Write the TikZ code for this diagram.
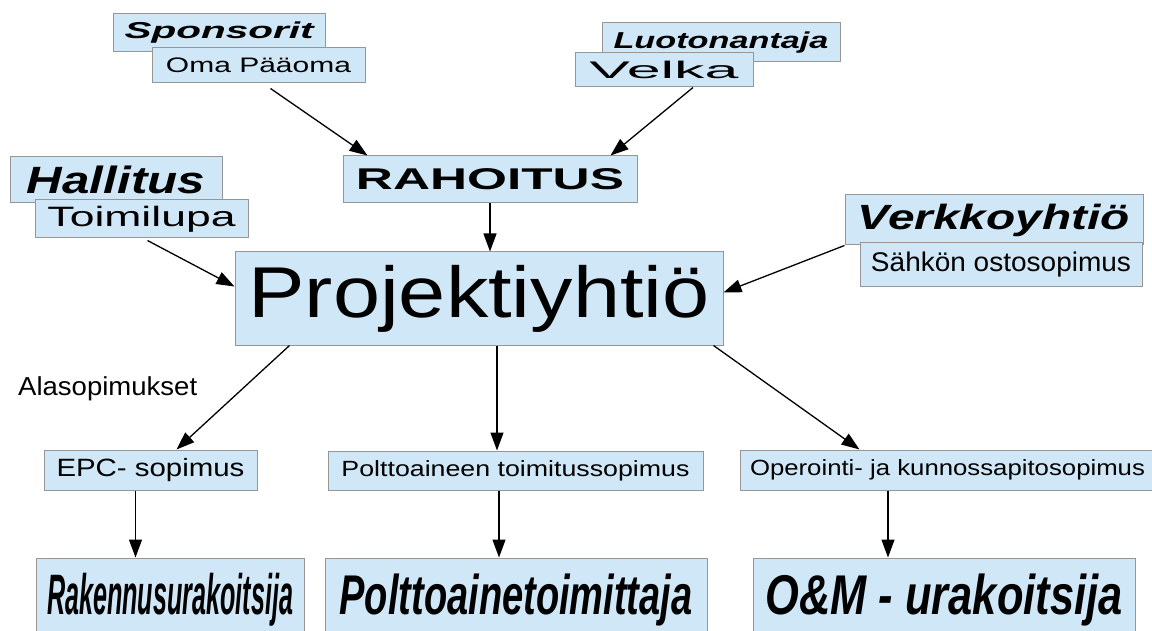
\documentclass[tikz,border=0pt]{standalone}
\usepackage{fontspec}
\setmainfont{Liberation Sans}
\usepackage{graphicx}
\usetikzlibrary{arrows.meta}
\definecolor{boxfill}{RGB}{207,231,246}
\definecolor{boxline}{RGB}{150,150,150}
% text at a given size, squeezed or stretched to a given width
\newcommand{\fitw}[3]{\resizebox{#2pt}{\height}{\fontsize{#1pt}{#1pt}\selectfont #3}}

\begin{document}
\begin{tikzpicture}[
  x=1pt, y=-1pt,
  box/.style={draw=boxline, fill=boxfill, line width=1pt, inner sep=0pt, align=center},
  arrow/.style={-{Triangle[length=18pt,width=13pt]}, line width=1.3pt}
]
\useasboundingbox (0,0) rectangle (1152,631);
\clip (0,0) rectangle (1152,631);
% financing
\node[box, minimum width=212pt, minimum height=38pt] (spons) at (219,33) {\fitw{23}{189}{\bfseries\itshape Sponsorit}};
\node[box, minimum width=213pt, minimum height=35pt] (oma) at (258.5,65.5) {\fitw{21}{185}{Oma Pääoma}};
\node[box, minimum width=238pt, minimum height=39pt] (luoto) at (721,42.5) {\fitw{23}{215}{\bfseries\itshape Luotonantaja}};
\node[box, minimum width=178pt, minimum height=34pt] (velka) at (664,70) {\fitw{24}{149}{Velka}};
\node[box, minimum width=294pt, minimum height=47pt] (rah) at (490,179.5) {\fitw{30}{268}{\bfseries RAHOITUS}};
% licence and power purchase
\node[box, minimum width=212pt, minimum height=46pt] (hall) at (116,180) {\fitw{38}{178}{\bfseries\itshape Hallitus}};
\node[box, minimum width=213pt, minimum height=38pt] (toimi) at (141.5,219) {\fitw{28}{188}{Toimilupa}};
\node[box, minimum width=298pt, minimum height=50pt] (verk) at (994,220) {\fitw{35}{272}{\bfseries\itshape Verkkoyhtiö}};
\node[box, minimum width=282pt, minimum height=44pt] (sahko) at (1001,265) {\fitw{27}{260}{Sähkön ostosopimus}};
% project company
\node[box, minimum width=488pt, minimum height=93pt] (proj) at (479,298.5) {\fitw{72}{461}{Projektiyhtiö}};
\node[anchor=base west, inner sep=0pt] (ala) at (18,395) {\fitw{26}{179}{Alasopimukset}};
% subcontracts
\node[box, minimum width=213pt, minimum height=40pt] (epc) at (150.5,470) {\fitw{25}{188}{EPC- sopimus}};
\node[box, minimum width=375pt, minimum height=39pt] (polt) at (515.5,470.5) {\fitw{22}{348}{Polttoaineen toimitussopimus}};
\node[box, minimum width=415pt, minimum height=40pt] (oper) at (947.5,470) {\fitw{22}{395}{Operointi- ja kunnossapitosopimus}};
% contractors
\node[box, minimum width=268pt, minimum height=84pt] (rak) at (170,600) {\fitw{57}{246}{\bfseries\itshape Rakennusurakoitsija}};
\node[box, minimum width=382pt, minimum height=84pt] (poltt) at (516,600) {\fitw{56}{353}{\bfseries\itshape Polttoainetoimittaja}};
\node[box, minimum width=382pt, minimum height=84pt] (om) at (944,600) {\fitw{56}{357}{\bfseries\itshape O\&M - urakoitsija}};
% connectors
\draw[arrow] ([shift={(12pt,-5pt)}]oma.south) -- ([xshift=25pt]rah.north west);
\draw[arrow] ([xshift=29pt]velka.south) -- ([xshift=-27pt]rah.north east);
\draw[arrow] (rah.south) -- (rah.south |- proj.north);
\draw[arrow] ([shift={(6pt,-2pt)}]toimi.south) -- ([yshift=12pt]proj.west);
\draw[arrow] (verk.south west) -- ([yshift=6pt]proj.east);
\draw[arrow] ([xshift=55pt]proj.south west) -- ([xshift=26pt]epc.north);
\draw[arrow] ([xshift=18pt]proj.south) -- ([xshift=18pt]proj.south |- polt.north);
\draw[arrow] ([xshift=-10pt]proj.south east) -- ([xshift=120pt]oper.north west);
\draw[arrow] ([xshift=-15pt]epc.south) -- ([xshift=-15pt]epc.south |- rak.north);
\draw[arrow] ([xshift=-16.5pt]polt.south) -- ([xshift=-16.5pt]polt.south |- poltt.north);
\draw[arrow] ([xshift=-59.5pt]oper.south) -- ([xshift=-59.5pt]oper.south |- om.north);
\end{tikzpicture}
\end{document}
